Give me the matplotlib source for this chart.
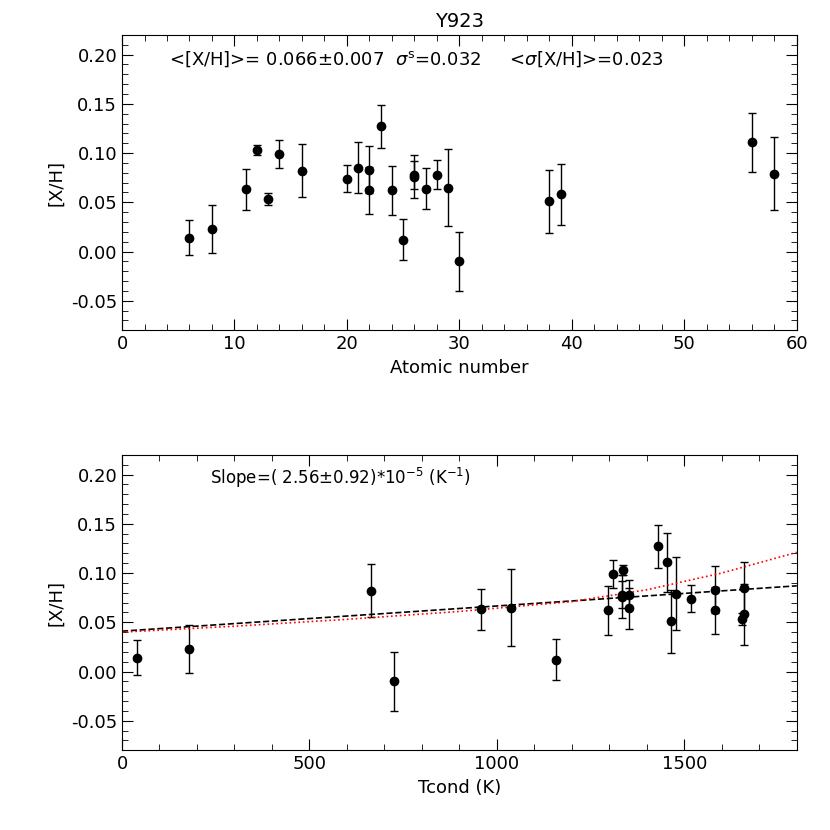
import matplotlib.pyplot as plt
from matplotlib.ticker import AutoMinorLocator

# element data: atomic number, condensation temperature, [X/H], error
atomic_number = [6, 8, 11, 12, 13, 14, 16, 20, 21, 22, 22, 23, 24, 25, 26, 26,
                 27, 28, 29, 30, 38, 39, 56, 58]
tcond = [40, 180, 958, 1336, 1653, 1310, 664, 1517, 1659, 1582, 1582, 1429,
         1296, 1158, 1334, 1334, 1352, 1353, 1037, 726, 1464, 1659, 1455, 1478]
xh = [0.014, 0.023, 0.063, 0.103, 0.053, 0.099, 0.082, 0.074, 0.085, 0.062,
      0.083, 0.127, 0.062, 0.012, 0.078, 0.076, 0.064, 0.078, 0.065, -0.010,
      0.051, 0.058, 0.111, 0.079]
xh_err = [0.018, 0.024, 0.021, 0.005, 0.006, 0.014, 0.027, 0.014, 0.026, 0.024,
          0.024, 0.022, 0.025, 0.021, 0.014, 0.022, 0.021, 0.015, 0.039, 0.030,
          0.032, 0.031, 0.030, 0.037]

# fits in the lower panel
lin_t = [0, 1800]
lin_y = [0.041, 0.087]
curve_t = [0, 300, 600, 900, 1200, 1400, 1600, 1800]
curve_y = [0.040, 0.046, 0.053, 0.061, 0.071, 0.083, 0.100, 0.121]

plt.rcParams['font.family'] = ['DejaVu Sans']
fig = plt.figure(figsize=(8.3, 8.3), dpi=100)
ax1 = fig.add_axes([0.147, 0.602, 0.813, 0.356])
ax2 = fig.add_axes([0.147, 0.096, 0.813, 0.356])


def style(ax, xlim, xticks):
    ax.set_xlim(*xlim)
    ax.set_ylim(-0.08, 0.22)
    ax.set_xticks(xticks)
    ax.set_yticks([-0.05, 0, 0.05, 0.10, 0.15, 0.20])
    ax.set_yticklabels(['-0.05', '0.00', '0.05', '0.10', '0.15', '0.20'])
    ax.xaxis.set_minor_locator(AutoMinorLocator(5))
    ax.yaxis.set_minor_locator(AutoMinorLocator(5))
    ax.tick_params(which='both', direction='in', top=True, right=True, labelsize=13)
    ax.tick_params(which='major', length=8)
    ax.tick_params(which='minor', length=4)
    ax.set_ylabel('[X/H]', fontsize=13)


ax1.errorbar(atomic_number, xh, yerr=xh_err, fmt='o', color='black', ms=6,
             capsize=3, elinewidth=1)
style(ax1, (0, 60), [0, 10, 20, 30, 40, 50, 60])
ax1.set_xlabel('Atomic number', fontsize=13)
ax1.set_title('Y923', fontsize=14)
ax1.text(0.07, 0.9, r'<[X/H]>= 0.066$\pm$0.007  $\sigma^{\rm s}$=0.032     <$\sigma$[X/H]>=0.023',
         transform=ax1.transAxes, fontsize=13)

ax2.errorbar(tcond, xh, yerr=xh_err, fmt='o', color='black', ms=6,
             capsize=3, elinewidth=1)
ax2.plot(lin_t, lin_y, '--', color='black', lw=1.2)
ax2.plot(curve_t, curve_y, ':', color='red', lw=1.2)
style(ax2, (0, 1800), [0, 500, 1000, 1500])
ax2.set_xlabel('Tcond (K)', fontsize=13)
ax2.text(0.13, 0.9, r'Slope=( 2.56$\pm$0.92)$*$10$^{-5}$ (K$^{-1}$)',
         transform=ax2.transAxes, fontsize=12)

fig.savefig('out.png', dpi=100)
